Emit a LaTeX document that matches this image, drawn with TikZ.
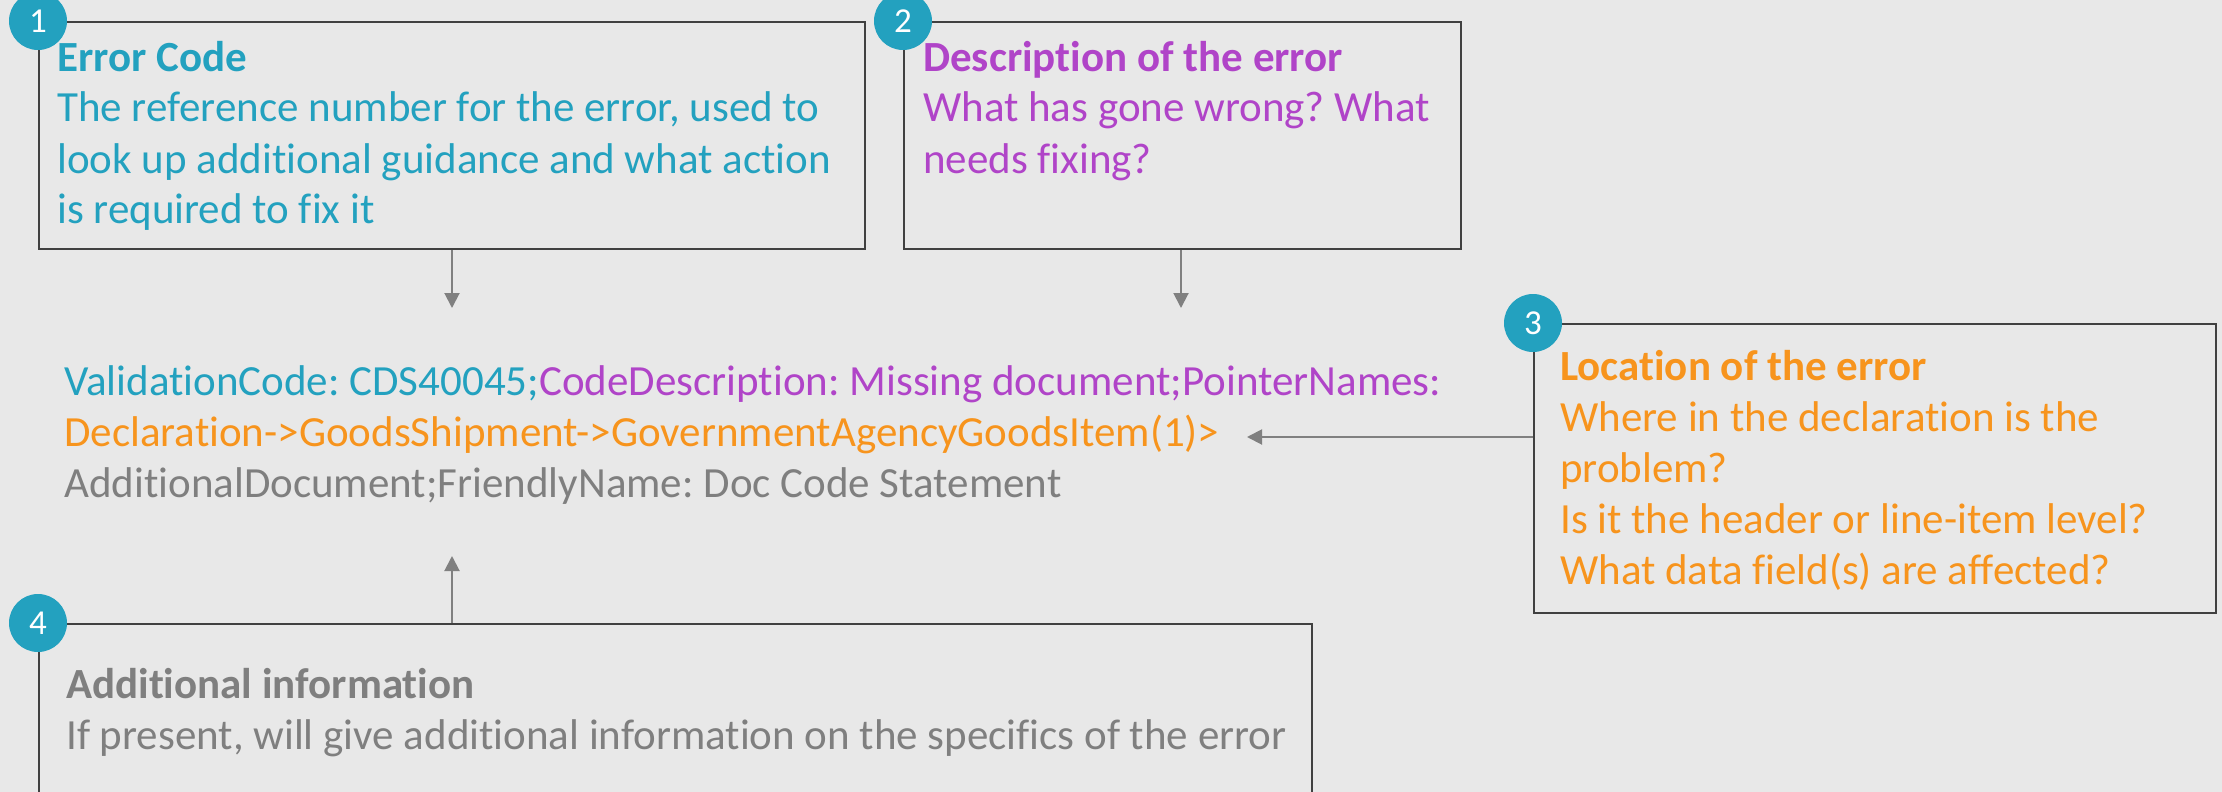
\documentclass[tikz,border=0pt]{standalone}
\usepackage{fontspec}
\setmainfont{Carlito}[Ligatures=NoCommon]
\usetikzlibrary{arrows.meta}
\definecolor{bgc}{HTML}{E8E8E8}
\definecolor{tealc}{HTML}{23A1BF}
\definecolor{purplec}{HTML}{B044C8}
\definecolor{orangec}{HTML}{F7941D}
\definecolor{greyc}{HTML}{7F7F7F}
\definecolor{boxc}{HTML}{404040}
\definecolor{arrowc}{HTML}{808080}
\frenchspacing
\newcommand\stacklines[1]{\begin{tabular}[t]{@{}l@{}}#1\end{tabular}}
\begin{document}
\begin{tikzpicture}[x=1pt,y=-1pt,
  frame/.style={draw=boxc,line width=2pt,anchor=north west,inner sep=0pt},
  badge/.style={circle,fill=tealc,text=white,minimum size=58pt,inner sep=0pt,font=\fontsize{35}{40}\selectfont},
  conn/.style={draw=arrowc,line width=2pt,-{Triangle[length=15pt,width=15pt]}},
  txt/.style={anchor=base west,inner sep=0pt,font=\fontsize{43}{51}\selectfont\frenchspacing}
]
\clip (0,0) rectangle (2222,792);
\fill[bgc] (0,0) rectangle (2222,792);

% boxes
\node[frame,minimum width=826pt,minimum height=227pt] (b1) at (38,21) {};
\node[frame,minimum width=557pt,minimum height=227pt] (b2) at (903,21) {};
\node[frame,minimum width=682pt,minimum height=289pt] (b3) at (1533,323) {};
\node[frame,minimum width=1273pt,minimum height=260pt] (b4) at (38,623) {};

% box texts
\node[txt,text=tealc] (x1) at (57,71) {\stacklines{\textbf{Error Code}\\
The reference number for the error, used to\\
look up additional guidance and what action\\
is required to fix it}};
\node[txt,text=purplec] (x2) at (923,71) {\stacklines{\textbf{Description of the error}\\
What has gone wrong? What\\
needs fixing?}};
\node[txt,text=orangec] (x3) at (1560,380) {\stacklines{\textbf{Location of the error}\\
Where in the declaration is the\\
problem?\\
Is it the header or line-item level?\\
What data field(s) are affected?}};
\node[txt,text=greyc] (x4) at (66,698) {\stacklines{\textbf{Additional information}\\
If present, will give additional information on the specifics of the error}};

% message
\node[txt] (msg) at (64,395) {\stacklines{{\color{tealc}ValidationCode: CDS40045;}\color{purplec}CodeDescription: Missing document;PointerNames:\\
\color{orangec}Declaration->GoodsShipment->GovernmentAgencyGoodsItem(1)>\\
\color{greyc}AdditionalDocument;FriendlyName: Doc Code Statement}};

% badges
\node[badge] (n1) at (b1.north west) {1};
\node[badge] (n2) at (b2.north west) {2};
\node[badge] (n3) at (b3.north west) {3};
\node[badge] (n4) at (b4.north west) {4};

% connectors
\coordinate (t1) at (452,308);
\coordinate (t2) at (1181,308);
\coordinate (t3) at (1247,437);
\coordinate (t4) at (452,556);
\draw[conn] (t1 |- b1.south) -- (t1);
\draw[conn] (t2 |- b2.south) -- (t2);
\draw[conn] (b3.west |- t3) -- (t3);
\draw[conn] (t4 |- b4.north) -- (t4);
\end{tikzpicture}
\end{document}
